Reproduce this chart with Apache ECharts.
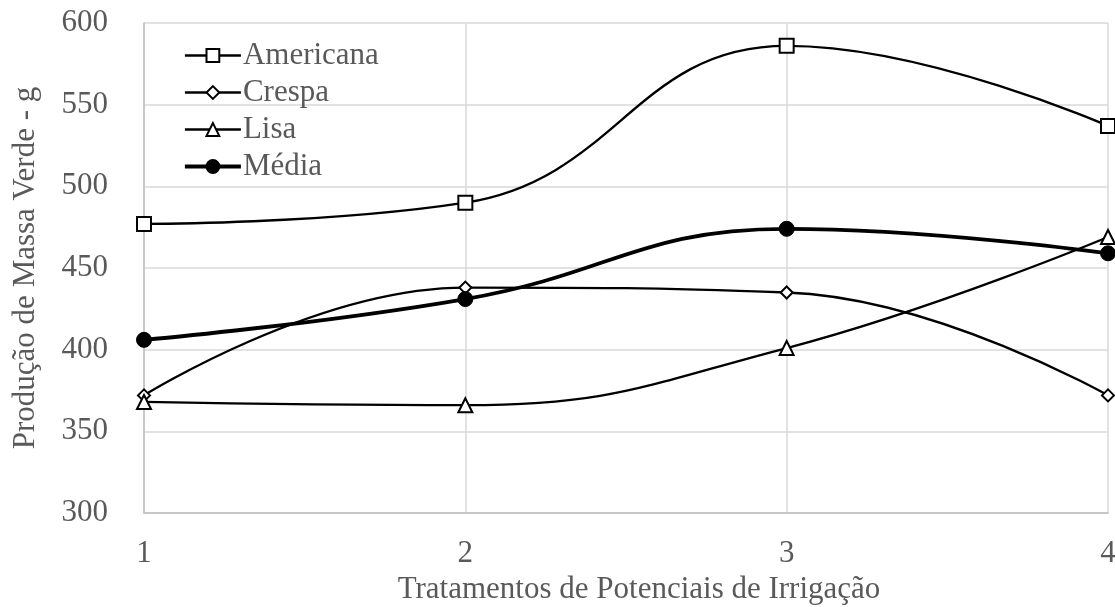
<!DOCTYPE html>
<html>
<head>
<meta charset="utf-8">
<title>Produção de Massa Verde</title>
<script src="https://cdn.jsdelivr.net/npm/echarts@6/dist/echarts.min.js"></script>
<style>
  html, body { margin: 0; padding: 0; background: #fff; }
  #Echarts { width: 1115px; height: 607px; }
</style>
</head>
<body>
<div id="Echarts"></div>
<script>
// dados
var tratamentos = [1, 2, 3, 4];
var americana = [477, 490, 586, 537];
var crespa = [372, 438, 435, 372];
var lisa = [368, 366, 401, 469];
var media = [406, 431, 474, 459];

var fonte = 'Liberation Serif, Times New Roman, serif';
var corTexto = '#595959';

function pares(vals) {
    return tratamentos.map(function (t, i) { return [t, vals[i]]; });
}

var myChart = echarts.init(document.getElementById('Echarts'));

var option = {
    animation: false,
    grid: { left: 144, right: 7, top: 23, bottom: 94, outerBoundsMode: 'none', containLabel: false },
    legend: {
        orient: 'vertical',
        left: 178,
        top: 35,
        itemWidth: 56,
        itemHeight: 16,
        itemGap: 6,
        lineStyle: { color: 'inherit', width: 'inherit' },
        textStyle: { fontFamily: fonte, fontSize: 31, color: corTexto, padding: [0, 0, 0, -3] },
        data: ['Americana', 'Crespa', 'Lisa', 'Média']
    },
    xAxis: {
        type: 'value',
        min: 1, max: 4, interval: 1,
        name: 'Tratamentos de Potenciais de Irrigação',
        nameLocation: 'middle',
        nameGap: 58,
        nameTextStyle: { fontFamily: fonte, fontSize: 31, color: corTexto, padding: [0, 0, 0, 26] },
        axisLine: { show: true, lineStyle: { color: '#bfbfbf', width: 1.5 } },
        axisTick: { show: false },
        axisLabel: { fontFamily: fonte, fontSize: 31, color: corTexto, margin: 25 },
        splitLine: { show: true, lineStyle: { color: '#d9d9d9', width: 1.5 } }
    },
    yAxis: {
        type: 'value',
        min: 300, max: 600, interval: 50,
        name: 'Produção de Massa Verde - g',
        nameLocation: 'middle',
        nameGap: 103,
        nameTextStyle: { fontFamily: fonte, fontSize: 31, color: corTexto },
        axisLine: { show: true, lineStyle: { color: '#bfbfbf', width: 1.5 } },
        axisTick: { show: false },
        axisLabel: { fontFamily: fonte, fontSize: 31, color: corTexto, margin: 36 },
        splitLine: { show: true, lineStyle: { color: '#d9d9d9', width: 1.5 } }
    },
    series: [
        {
            name: 'Americana', type: 'line', smooth: 0.45,
            data: pares(americana),
            symbol: 'rect', symbolSize: 14,
            lineStyle: { color: '#000', width: 2.3 },
            itemStyle: { color: '#fff', borderColor: '#000', borderWidth: 2 }
        },
        {
            name: 'Crespa', type: 'line', smooth: 0.45,
            data: pares(crespa),
            symbol: 'diamond', symbolSize: 12,
            lineStyle: { color: '#000', width: 2.3 },
            itemStyle: { color: '#fff', borderColor: '#000', borderWidth: 2 }
        },
        {
            name: 'Lisa', type: 'line', smooth: 0.45,
            data: pares(lisa),
            symbol: 'triangle', symbolSize: 14,
            lineStyle: { color: '#000', width: 2.3 },
            itemStyle: { color: '#fff', borderColor: '#000', borderWidth: 2 }
        },
        {
            name: 'Média', type: 'line', smooth: 0.45,
            data: pares(media),
            symbol: 'circle', symbolSize: 15,
            lineStyle: { color: '#000', width: 3.8 },
            itemStyle: { color: '#000', borderColor: '#000', borderWidth: 1 }
        }
    ]
};

myChart.setOption(option);
</script>
</body>
</html>
